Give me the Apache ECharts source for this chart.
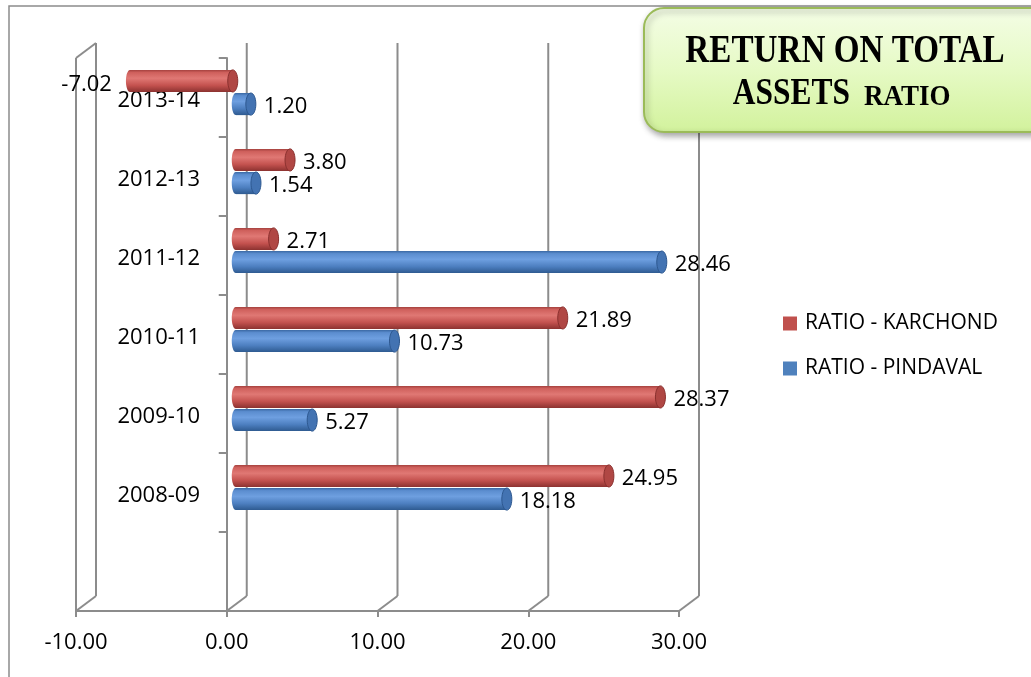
<!DOCTYPE html>
<html>
<head>
<meta charset="utf-8">
<script src="https://cdn.jsdelivr.net/npm/echarts@6/dist/echarts.min.js"></script>
<style>
  html, body { margin: 0; padding: 0; background: #ffffff; }
  #chart { width: 1031px; height: 677px; }
</style>
</head>
<body>
<div id="chart"></div>
<script>
// Financial years, top to bottom (the last slot is left empty)
const categories = ['2013-14', '2012-13', '2011-12', '2010-11', '2009-10', '2008-09', ''];
// Return on total assets, per company
const karchond = [-7.02, 3.80, 2.71, 21.89, 28.37, 24.95];
const pindaval = [1.20, 1.54, 28.46, 10.73, 5.27, 18.18];
const seriesNames = ['RATIO - KARCHOND', 'RATIO - PINDAVAL'];
// Value axis range and tick step
const valueMin = -10;
const valueMax = 30;
const valueStep = 10;
const valueTicks = [-10, 0, 10, 20, 30];
// Title text
const titleLine1 = 'RETURN ON TOTAL';
const titleWord1 = 'ASSETS';
const titleWord2 = 'RATIO';

const FONT = '"Open Sans", "Noto Sans", sans-serif';
const FRAME = '#8c8c8c';
const DX = 20, DY = 15;   // depth of the pseudo-3D frame

const palette = {
  red: {
    legend: '#c0504d',
    body: [[0, '#a3403d'], [0.12, '#cf605c'], [0.38, '#e07874'], [0.7, '#c4524f'], [1, '#8c3230']],
    cap: '#b04744', capStroke: '#8a302e'
  },
  blue: {
    legend: '#4f81bd',
    body: [[0, '#3a68a3'], [0.12, '#5b8dcf'], [0.38, '#6e9fe0'], [0.7, '#4d7fc0'], [1, '#2e5a90']],
    cap: '#4373b2', capStroke: '#2d5890'
  }
};

function grad(stops) {
  return new echarts.graphic.LinearGradient(0, 0, 0, 1,
    stops.map(s => ({ offset: s[0], color: s[1] })));
}

// Draws one horizontal cylinder with its value label
function cylinderRenderer(pal, side) {
  return function (params, api) {
    const v = api.value(0);
    const ci = api.value(1);
    const p0 = api.coord([0, ci]);
    const p1 = api.coord([v, ci]);
    const band = api.size([0, 1])[1];
    const h = band * 0.28;
    const cy = p0[1] + (side === 'top' ? -(h / 2 + 0.5) : (h / 2 + 0.5));
    const xs = Math.min(p0[0], p1[0]);
    const xe = Math.max(p0[0], p1[0]);
    const rx = 5, ry = h / 2;
    const label = v.toFixed(2);
    const text = v < 0
      ? { type: 'text', x: xs - 15, y: cy + 4, style: { text: label, font: '22px ' + FONT, fill: '#000', align: 'right', verticalAlign: 'middle' } }
      : { type: 'text', x: xe + rx + 8, y: cy + 3, style: { text: label, font: '22px ' + FONT, fill: '#000', align: 'left', verticalAlign: 'middle' } };
    return {
      type: 'group',
      children: [
        { type: 'ellipse', shape: { cx: xs + 3, cy: cy, rx: 4, ry: ry }, style: { fill: grad(pal.body) } },
        { type: 'rect', shape: { x: xs + 3, y: cy - ry, width: Math.max(xe - xs - 3, 0), height: h }, style: { fill: grad(pal.body) } },
        { type: 'ellipse', shape: { cx: xe, cy: cy, rx: rx, ry: ry }, style: { fill: pal.cap, stroke: pal.capStroke, lineWidth: 1 } },
        text
      ]
    };
  };
}

// Back-wall verticals, floor diagonals and the left side edge
function renderFrame(params, api) {
  const cs = params.coordSys;
  const x = api.coord([api.value(0), 0])[0];
  const top = cs.y, bottom = cs.y + cs.height;
  const segs = [
    [x, bottom, x + DX, bottom - DY],
    [x + DX, bottom - DY, x + DX, top - DY]
  ];
  if (params.dataIndex === 0) {
    segs.push([x, top, x + DX, top - DY]);
    segs.push([x, top, x, bottom]);
  }
  return {
    type: 'group',
    children: segs.map(s => ({
      type: 'line',
      shape: { x1: s[0], y1: s[1], x2: s[2], y2: s[3] },
      style: { stroke: FRAME, lineWidth: 2 }
    }))
  };
}

const chart = echarts.init(document.getElementById('chart'), null, { renderer: 'canvas' });

chart.setOption({
  backgroundColor: '#ffffff',
  animation: false,
  grid: [
    { left: 76, top: 58, width: 603, height: 553, containLabel: false, outerBoundsMode: 'none' },   // front plane
    { left: 82, top: 53, width: 603, height: 553, containLabel: false, outerBoundsMode: 'none' }    // bar plane
  ],
  xAxis: [
    {
      type: 'value', gridIndex: 0, min: valueMin, max: valueMax, interval: valueStep,
      axisLine: { show: true, onZero: false, lineStyle: { color: FRAME, width: 2 } },
      axisTick: { show: true, length: 6, lineStyle: { color: FRAME, width: 2 } },
      axisLabel: { margin: 21, fontSize: 22, fontFamily: FONT, color: '#000', formatter: v => v.toFixed(2) },
      splitLine: { show: false }
    },
    {
      type: 'value', gridIndex: 1, min: valueMin, max: valueMax, interval: valueStep, show: false
    }
  ],
  yAxis: [
    {
      type: 'category', gridIndex: 0, data: categories, inverse: true,
      axisLine: { show: true, onZero: true, lineStyle: { color: FRAME, width: 2 } },
      axisTick: { show: true, length: 8, lineStyle: { color: FRAME, width: 2 } },
      // labels sit just left of the zero line, slightly below the band centre
      axisLabel: {
        margin: -124, color: '#000',
        formatter: v => (v ? '{c|' + v + '}' : ''),
        rich: { c: { fontSize: 22, fontFamily: FONT, color: '#000', padding: [7, 0, 0, 0] } }
      },
      splitLine: { show: false }
    },
    {
      type: 'category', gridIndex: 1, data: categories, inverse: true, show: false
    }
  ],
  legend: {
    orient: 'vertical',
    left: 778, top: 308,
    itemGap: 24,
    itemWidth: 14, itemHeight: 14,
    icon: 'rect',
    data: seriesNames,
    textStyle: { fontSize: 21, fontFamily: FONT, color: '#000', padding: [0, 0, 0, 3] }
  },
  graphic: [
    {
      type: 'rect', z: 0, silent: true,
      shape: { x: 9, y: 6, width: 1100, height: 800 },
      style: { fill: 'none', stroke: '#8c8c8c', lineWidth: 1.5 }
    },
    {
      type: 'rect', z: 100, silent: true,
      shape: { x: 644, y: 8, width: 420, height: 124, r: 20 },
      style: {
        fill: grad([[0, '#f4fde6'], [0.5, '#e6fac5'], [1, '#d2f29c']]),
        stroke: '#9bbb59', lineWidth: 2,
        shadowBlur: 6, shadowOffsetX: 2, shadowOffsetY: 3, shadowColor: 'rgba(0,0,0,0.35)'
      }
    },
    {
      type: 'text', z: 101, silent: true,
      x: 845, y: 52, scaleX: 0.85,
      style: { text: titleLine1, font: 'bold 39px "Liberation Serif", serif', fill: '#000', align: 'center', verticalAlign: 'middle' }
    },
    {
      type: 'text', z: 101, silent: true,
      x: 850, y: 94, scaleX: 0.85,
      style: { text: titleWord1, font: 'bold 37px "Liberation Serif", serif', fill: '#000', align: 'right', verticalAlign: 'middle' }
    },
    {
      type: 'text', z: 101, silent: true,
      x: 864, y: 97, scaleX: 0.9,
      style: { text: titleWord2, font: 'bold 30px "Liberation Serif", serif', fill: '#000', align: 'left', verticalAlign: 'middle' }
    }
  ],
  series: [
    {
      type: 'custom', name: 'frame', xAxisIndex: 0, yAxisIndex: 0, z: 1,
      silent: true,
      data: valueTicks.map(v => [v, 0]),
      renderItem: renderFrame
    },
    {
      type: 'custom', name: seriesNames[0], xAxisIndex: 1, yAxisIndex: 1, z: 5,
      itemStyle: { color: palette.red.legend },
      data: karchond.map((v, i) => [v, i]),
      encode: { x: 0, y: 1 },
      renderItem: cylinderRenderer(palette.red, 'top')
    },
    {
      type: 'custom', name: seriesNames[1], xAxisIndex: 1, yAxisIndex: 1, z: 5,
      itemStyle: { color: palette.blue.legend },
      data: pindaval.map((v, i) => [v, i]),
      encode: { x: 0, y: 1 },
      renderItem: cylinderRenderer(palette.blue, 'bottom')
    }
  ]
});
</script>
</body>
</html>
